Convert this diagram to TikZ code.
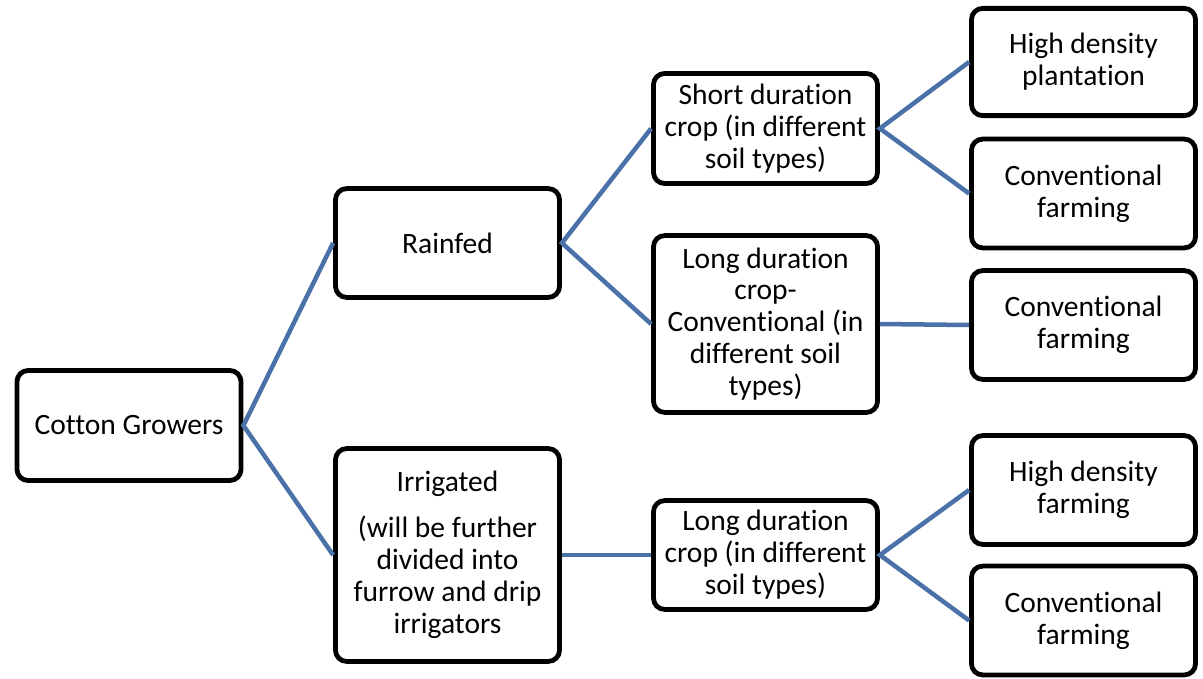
\documentclass[tikz,border=0pt]{standalone}
\usepackage{fontspec}
\setmainfont{Carlito}[Ligatures=NoCommon]
\usepackage{tikz}
\definecolor{linkblue}{RGB}{74,114,168}

\begin{document}
\begin{tikzpicture}[x=0.025cm, y=-0.025cm,
    box/.style={draw=black, line width=3.4pt, rounded corners=0.28cm, fill=white,
        minimum width=5.6cm, minimum height=2.72cm, align=center, inner sep=1pt,
        font=\fontsize{21}{22.7}\selectfont},
    link/.style={draw=linkblue, line width=3.2pt}]

    \useasboundingbox (0,0) rectangle (1203,678);

    \node[box, minimum height=2.75cm] (CG) at (129,425.5) {Cotton Growers};
    \node[box] (RF) at (447.5,243) {Rainfed};
    \node[box, minimum height=5.32cm] (IR) at (447.5,555) {Irrigated\\[10pt] (will be further\\ divided into\\ furrow and drip\\ irrigators};
    \node[box, minimum height=2.75cm] (SD) at (765.5,128.5) {Short duration\\ crop (in different\\ soil types)};
    \node[box, minimum height=4.42cm] (LC) at (765.5,324) {Long duration\\ crop-\\ Conventional (in\\ different soil\\ types)};
    \node[box] (LI) at (765.5,555) {Long duration\\ crop (in different\\ soil types)};
    \node[box, minimum height=2.68cm] (HP) at (1083.5,62) {High density\\ plantation};
    \node[box] (CF1) at (1083.5,193.5) {Conventional\\ farming};
    \node[box] (CF2) at (1083.5,325) {Conventional\\ farming};
    \node[box] (HF) at (1083.5,490) {High density\\ farming};
    \node[box] (CF3) at (1083.5,620.5) {Conventional\\ farming};

    \draw[link] (RF.west) -- (CG.east) -- (IR.west);
    \draw[link] (SD.west) -- (RF.east) -- (LC.west);
    \draw[link] (IR.east) -- (LI.west);
    \draw[link] (HP.west) -- (SD.east) -- (CF1.west);
    \draw[link] (LC.east) -- (CF2.west);
    \draw[link] (HF.west) -- (LI.east) -- (CF3.west);

\end{tikzpicture}
\end{document}
